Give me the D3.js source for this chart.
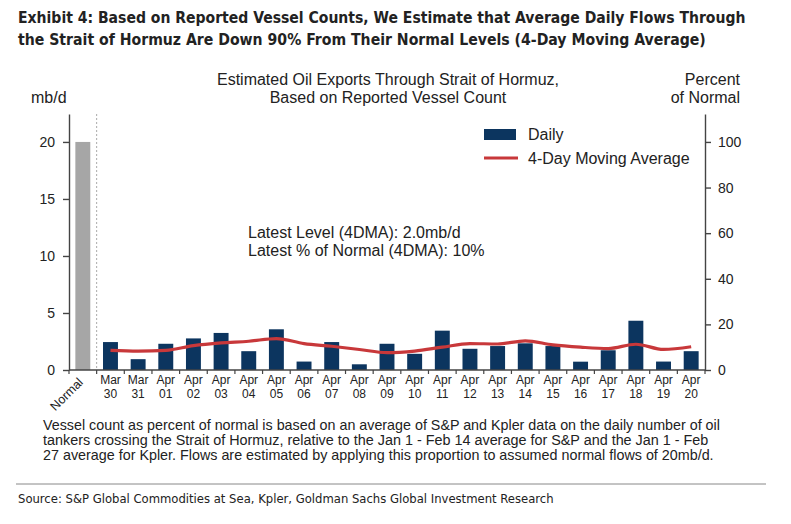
<!DOCTYPE html>
<html>
<head>
<meta charset="utf-8">
<script src="https://cdn.jsdelivr.net/npm/d3@7"></script>
<style>
  body { margin: 0; background: #fff; }
  svg { display: block; }
</style>
</head>
<body>
<svg id="chart" width="791" height="524"></svg>
<script>
var categories = ["Normal", "Mar 30", "Mar 31", "Apr 01", "Apr 02", "Apr 03", "Apr 04", "Apr 05",
  "Apr 06", "Apr 07", "Apr 08", "Apr 09", "Apr 10", "Apr 11", "Apr 12", "Apr 13", "Apr 14",
  "Apr 15", "Apr 16", "Apr 17", "Apr 18", "Apr 19", "Apr 20"];

// mb/d, first value is the assumed normal flow
var daily = [20, 2.45, 0.95, 2.3, 2.77, 3.25, 1.65, 3.57, 0.74, 2.45, 0.5, 2.3, 1.42, 3.45,
  1.86, 2.1, 2.34, 2.1, 0.73, 1.73, 4.32, 0.74, 1.65];

// percent of normal, 4-day moving average (no value for the Normal column)
var movingAvg = [null, 8.6, 8.3, 8.6, 10.7, 11.9, 12.6, 13.8, 11.6, 10.4, 9.0, 7.6, 8.3, 10.0,
  11.6, 11.4, 12.8, 11.0, 10.0, 9.4, 11.3, 9.0, 10.2];

var leftTicks = [0, 5, 10, 15, 20],
    rightTicks = [0, 20, 40, 60, 80, 100];

var titleLines = [
  "Exhibit 4: Based on Reported Vessel Counts, We Estimate that Average Daily Flows Through",
  "the Strait of Hormuz Are Down 90% From Their Normal Levels (4-Day Moving Average)"
];
var noteLines = [
  "Vessel count as percent of normal is based on an average of S&P and Kpler data on the daily number of oil",
  "tankers crossing the Strait of Hormuz, relative to the Jan 1 - Feb 14 average for S&P and the Jan 1 - Feb",
  "27 average for Kpler. Flows are estimated by applying this proportion to assumed normal flows of 20mb/d."
];
var sourceText = "Source: S&P Global Commodities at Sea, Kpler, Goldman Sachs Global Investment Research";

var svg = d3.select("#chart"),
    chartFont = "'Liberation Sans', Arial, sans-serif",
    narrowFont = "'Liberation Sans Narrow', 'DejaVu Sans Condensed', 'Liberation Sans', sans-serif",
    ink = "#222",
    navy = "#0c355f",
    red = "#c8383a";

// Shrink or grow a text's font so that it spans the width seen in the reference
var fitWidth = function(sel, size, widths) {
  sel.each(function(d, i) {
    var w = this.getComputedTextLength(),
        target = typeof widths === "function" ? widths(d, i) : widths;
    if (w > 0) d3.select(this).style("font-size", (size * target / w).toFixed(2) + "px");
  });
};

svg.append("rect").attr("width", 791).attr("height", 524).attr("fill", "#fff");

var x = d3.scaleBand().domain(categories).range([69, 705]).paddingInner(0.46).paddingOuter(0.23),
    y = d3.scaleLinear().domain([0, 22.45]).range([370, 114]),
    yPct = d3.scaleLinear().domain([0, 112.25]).range([370, 114]);

// Title
svg.selectAll(".title").data(titleLines).enter().append("text")
  .attr("class", "title")
  .attr("x", 18)
  .attr("y", function(d, i) { return 23 + i * 22; })
  .style("font-family", narrowFont)
  .style("font-weight", "bold")
  .style("font-size", "18px")
  .attr("fill", ink)
  .text(function(d) { return d; })
  .call(fitWidth, 18, function(d, i) { return i === 0 ? 728 : 688; });

// Headers above the plot
var header = function(txt, xp, yp, anchor) {
  return svg.append("text").attr("x", xp).attr("y", yp)
    .attr("text-anchor", anchor)
    .style("font-family", chartFont).style("font-size", "16px")
    .attr("fill", ink).text(txt);
};
header("Estimated Oil Exports Through Strait of Hormuz,", 388, 85, "middle");
header("Based on Reported Vessel Count", 388, 103, "middle");
header("mb/d", 31, 103, "start");
header("Percent", 740, 85, "end");
header("of Normal", 740, 103, "end");

// Bars
svg.selectAll(".bar").data(daily).enter().append("rect")
  .attr("class", "bar")
  .attr("x", function(d, i) { return x(categories[i]); })
  .attr("width", x.bandwidth())
  .attr("y", function(d) { return y(d); })
  .attr("height", function(d) { return y(0) - y(d); })
  .attr("fill", function(d, i) { return i === 0 ? "#a6a6a6" : navy; });

// Separator between Normal and the daily series
var gap = (x.step() - x.bandwidth()) / 2,
    sepX = x(categories[1]) - gap;
svg.append("line")
  .attr("x1", sepX).attr("x2", sepX)
  .attr("y1", 114).attr("y2", 370)
  .attr("stroke", "#aaa").attr("stroke-width", 1)
  .attr("stroke-dasharray", "2,2");

// Moving average line
var line = d3.line()
  .defined(function(d) { return d !== null; })
  .x(function(d, i) { return x(categories[i]) + x.bandwidth() / 2; })
  .y(function(d) { return yPct(d); })
  .curve(d3.curveMonotoneX);

svg.append("path").datum(movingAvg)
  .attr("d", line)
  .attr("fill", "none")
  .attr("stroke", red)
  .attr("stroke-width", 3.2);

// Axes
var styleAxis = function(g) {
  g.selectAll("path, line").attr("stroke", "#444").attr("stroke-width", 1.4);
  g.selectAll("text").style("font-family", chartFont).style("font-size", "14px").attr("fill", ink);
};

svg.append("g").attr("transform", "translate(69,0)")
  .call(d3.axisLeft(y).tickValues(leftTicks).tickSize(6).tickSizeOuter(0).tickPadding(8))
  .call(styleAxis);

svg.append("g").attr("transform", "translate(705,0)")
  .call(d3.axisRight(yPct).tickValues(rightTicks).tickSize(6).tickSizeOuter(0).tickPadding(7))
  .call(styleAxis);

// Category axis: ticks sit on the band boundaries
var bounds = categories.map(function(c) { return x(c) - gap; }).concat([705]);
svg.append("line")
  .attr("x1", 69).attr("x2", 705).attr("y1", 370).attr("y2", 370)
  .attr("stroke", "#444").attr("stroke-width", 1.4);
svg.selectAll(".xtick").data(bounds).enter().append("line")
  .attr("class", "xtick")
  .attr("x1", function(d) { return d; }).attr("x2", function(d) { return d; })
  .attr("y1", 370).attr("y2", 374)
  .attr("stroke", "#444").attr("stroke-width", 1.2);

var dateLabels = svg.selectAll(".xlab").data(categories.slice(1)).enter().append("text")
  .attr("class", "xlab")
  .attr("text-anchor", "middle")
  .style("font-family", chartFont).style("font-size", "12px")
  .attr("fill", ink);
dateLabels.append("tspan")
  .attr("x", function(d) { return x(d) + x.bandwidth() / 2; })
  .attr("y", 384)
  .text(function(d) { return d.split(" ")[0]; });
dateLabels.append("tspan")
  .attr("x", function(d) { return x(d) + x.bandwidth() / 2; })
  .attr("y", 398)
  .text(function(d) { return d.split(" ")[1]; });

svg.append("text")
  .attr("transform", "translate(" + (x(categories[0]) + x.bandwidth() / 2 + 1) + ",383) rotate(-45)")
  .attr("text-anchor", "end")
  .style("font-family", chartFont).style("font-size", "12.5px")
  .attr("fill", ink)
  .text(categories[0]);

// Legend
svg.append("rect").attr("x", 484).attr("y", 129).attr("width", 32).attr("height", 11).attr("fill", navy);
svg.append("line").attr("x1", 484).attr("x2", 518).attr("y1", 158).attr("y2", 158)
  .attr("stroke", red).attr("stroke-width", 3.2);
header("Daily", 528, 140, "start");
header("4-Day Moving Average", 528, 164, "start");

// Latest values
var latest = movingAvg[movingAvg.length - 1];
header("Latest Level (4DMA): " + d3.format(".1f")(latest / 5) + "mb/d", 248, 238, "start");
header("Latest % of Normal (4DMA): " + d3.format(".0f")(latest) + "%", 248, 256, "start");

// Footnote
svg.selectAll(".note").data(noteLines).enter().append("text")
  .attr("class", "note")
  .attr("x", 43)
  .attr("y", function(d, i) { return 430 + i * 15; })
  .style("font-family", chartFont).style("font-size", "14px")
  .attr("fill", ink)
  .text(function(d) { return d; })
  .call(fitWidth, 14, function(d, i) { return [677, 666, 671][i]; });

svg.append("line").attr("x1", 16).attr("x2", 766).attr("y1", 484).attr("y2", 484)
  .attr("stroke", "#888").attr("stroke-width", 1);

svg.append("text")
  .attr("x", 18).attr("y", 503)
  .style("font-family", narrowFont).style("font-size", "13px")
  .attr("fill", ink)
  .text(sourceText)
  .call(fitWidth, 13, 536);
</script>
</body>
</html>
